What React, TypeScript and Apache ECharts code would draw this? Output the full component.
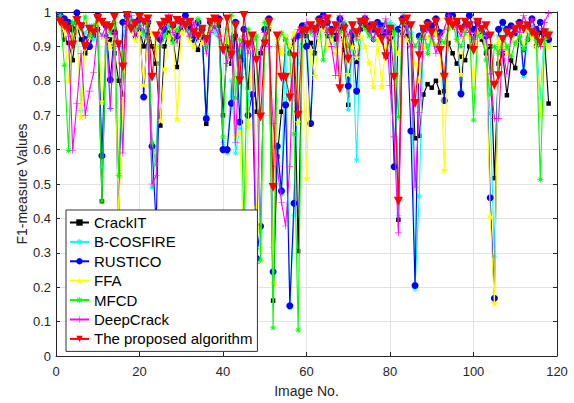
import React, { useEffect, useRef } from "react";
import * as echarts from "echarts";

// Image numbers 1..118
const imageNo: number[] = [];
for (let i = 1; i <= 118; i++) imageNo.push(i);

const xTicks = [0, 20, 40, 60, 80, 100, 120];

const crackIT = [
  0.98, 0.92, 0.91, 0.86, 0.96, 0.92, 0.88, 0.9, 0.93, 0.95,
  0.45, 0.93, 0.92, 0.88, 0.8, 0.76, 0.96, 0.97, 0.93, 0.95,
  0.9, 0.96, 0.9, 0.85, 0.67, 0.9, 0.94, 0.92, 0.84, 0.95,
  0.97, 0.95, 0.92, 0.89, 0.93, 0.675, 0.95, 0.97, 0.96, 0.7,
  0.9, 0.85, 0.93, 0.87, 0.86, 0.78, 0.93, 0.71, 0.88, 0.92,
  0.95, 0.161, 0.58, 0.71, 0.92, 0.88, 0.92, 0.305, 0.94, 0.93,
  0.91, 0.88, 0.96, 0.97, 0.93, 0.94, 0.92, 0.95, 0.89, 0.73,
  0.93, 0.855, 0.95, 0.96, 0.94, 0.92, 0.96, 0.93, 0.87, 0.94,
  0.95, 0.396, 0.94, 0.93, 0.9, 0.633, 0.64, 0.76, 0.79, 0.78,
  0.8, 0.766, 0.77, 0.91, 0.88, 0.85, 0.87, 0.86, 0.9, 0.93,
  0.96, 0.92, 0.88, 0.9, 0.517, 0.85, 0.88, 0.758, 0.86, 0.837,
  0.93, 0.89, 0.92, 0.95, 0.9, 0.94, 0.92, 0.734,
];

const bCosfire = [
  0.99, 0.97, 0.96, 0.93, 0.97, 0.714, 0.94, 0.96, 0.92, 0.99,
  0.55, 0.93, 0.72, 0.95, 0.9, 0.93, 0.97, 0.98, 0.95, 0.97,
  0.93, 0.95, 0.49, 0.6, 0.92, 0.94, 0.97, 0.95, 0.93, 0.96,
  0.98, 0.94, 0.91, 0.95, 0.93, 0.7, 0.96, 0.94, 0.97, 0.62,
  0.59, 0.8, 0.59, 0.66, 0.9, 0.72, 0.93, 0.275, 0.363, 0.94,
  0.97, 0.315, 0.6, 0.47, 0.93, 0.14, 0.409, 0.85, 0.95, 0.96,
  0.68, 0.93, 0.97, 0.95, 0.96, 0.93, 0.9, 0.97, 0.95, 0.717,
  0.92, 0.57, 0.96, 0.97, 0.94, 0.92, 0.97, 0.95, 0.93, 0.97,
  0.96, 0.409, 0.99, 0.95, 0.94, 0.195, 0.465, 0.93, 0.9, 0.92,
  0.95, 0.92, 0.74, 0.97, 0.96, 0.93, 0.77, 0.95, 0.97, 0.92,
  0.96, 0.94, 0.9, 0.705, 0.29, 0.93, 0.96, 0.89, 0.92, 0.95,
  0.94, 0.813, 0.93, 0.96, 0.92, 0.75, 0.95, 0.91,
];

const rustico = [
  0.99, 0.98, 0.97, 0.95, 0.998, 0.96, 0.92, 0.9, 0.95, 0.99,
  0.582, 0.96, 0.803, 0.94, 0.38, 0.97, 0.99, 0.96, 0.97, 0.98,
  0.753, 0.97, 0.61, 0.38, 0.92, 0.95, 0.98, 0.96, 0.93, 0.97,
  0.99, 0.96, 0.92, 0.97, 0.95, 0.69, 0.97, 0.96, 0.98, 0.6,
  0.6, 0.735, 0.97, 0.68, 0.95, 0.7, 0.76, 0.284, 0.377, 0.95,
  0.98, 0.245, 0.61, 0.48, 0.73, 0.146, 0.444, 0.93, 0.96, 0.9,
  0.676, 0.95, 0.98, 0.99, 0.97, 0.95, 0.93, 0.98, 0.96, 0.785,
  0.94, 0.77, 0.97, 0.98, 0.96, 0.95, 0.97, 0.96, 0.94, 0.926,
  0.55, 0.95, 0.98, 0.96, 0.654, 0.205, 0.93, 0.95, 0.97, 0.96,
  0.98, 0.94, 0.743, 0.99, 0.99, 0.97, 0.762, 0.96, 0.99, 0.95,
  0.97, 0.94, 0.93, 0.46, 0.168, 0.95, 0.97, 0.95, 0.96, 0.94,
  0.97, 0.825, 0.96, 0.98, 0.95, 0.97, 0.93, 0.92,
];

const ffa = [
  0.97, 0.95, 0.8, 0.93, 0.96, 0.695, 0.91, 0.93, 0.95, 0.97,
  0.74, 0.92, 0.9, 0.93, 0.4, 0.74, 0.96, 0.95, 0.92, 0.94,
  0.788, 0.92, 0.94, 0.9, 0.685, 0.835, 0.93, 0.95, 0.69, 0.94,
  0.96, 0.92, 0.9, 0.94, 0.91, 0.93, 0.95, 0.97, 0.93, 0.9,
  0.92, 0.88, 0.64, 0.65, 0.3, 0.67, 0.9, 0.433, 0.315, 0.93,
  0.96, 0.212, 0.92, 0.88, 0.93, 0.9, 0.94, 0.68, 0.92, 0.517,
  0.89, 0.815, 0.93, 0.95, 0.9, 0.93, 0.88, 0.94, 0.92, 0.82,
  0.9, 0.868, 0.93, 0.9, 0.853, 0.784, 0.92, 0.784, 0.9, 0.93,
  0.9, 0.88, 0.95, 0.92, 0.9, 0.85, 0.8, 0.9, 0.93, 0.91,
  0.94, 0.9, 0.54, 0.96, 0.98, 0.92, 0.82, 0.95, 0.93, 0.78,
  0.94, 0.93, 0.9, 0.406, 0.154, 0.92, 0.9, 0.88, 0.93, 0.91,
  0.94, 0.9, 0.95, 0.93, 0.9, 0.7, 0.92, 0.9,
];

const mfcd = [
  0.99, 0.845, 0.598, 0.97, 0.98, 0.95, 0.986, 0.93, 0.96, 0.98,
  0.45, 0.96, 0.94, 0.97, 0.525, 0.88, 0.98, 0.97, 0.95, 0.96,
  0.94, 0.97, 0.62, 0.556, 0.9, 0.93, 0.96, 0.91, 0.95, 0.97,
  0.96, 0.93, 0.95, 0.98, 0.94, 0.9, 0.96, 0.98, 0.93, 0.637,
  0.95, 0.99, 0.75, 0.92, 0.38, 0.95, 0.9, 0.93, 0.279, 0.97,
  0.96, 0.082, 0.9, 0.94, 0.92, 0.88, 0.645, 0.075, 0.93, 0.96,
  0.94, 0.95, 0.97, 0.86, 0.95, 0.93, 0.96, 0.94, 0.97, 0.9,
  0.95, 0.92, 0.97, 0.95, 0.93, 0.96, 0.94, 0.95, 0.97, 0.96,
  0.94, 0.695, 0.97, 0.96, 0.93, 0.9, 0.92, 0.95, 0.88, 0.93,
  0.9, 0.92, 0.91, 0.95, 0.97, 0.92, 0.9, 0.94, 0.96, 0.686,
  0.93, 0.95, 0.86, 0.76, 0.9, 0.88, 0.92, 0.9, 0.87, 0.91,
  0.93, 0.89, 0.92, 0.95, 0.93, 0.513, 0.92, 0.94,
];

const deepCrack = [
  0.98, 0.96, 0.93, 0.598, 0.734, 0.88, 0.7, 0.77, 0.824, 0.95,
  0.93, 0.96, 0.72, 0.94, 0.9, 0.59, 0.97, 0.99, 0.93, 0.96,
  0.95, 0.92, 0.5, 0.524, 0.93, 0.96, 0.99, 0.94, 0.91, 0.97,
  0.95, 0.93, 0.97, 0.92, 0.95, 0.88, 0.94, 0.96, 0.93, 0.9,
  0.85, 0.93, 0.62, 0.9, 0.93, 0.88, 0.92, 0.27, 0.89, 0.94,
  0.9, 0.676, 0.55, 0.447, 0.378, 0.55, 0.92, 0.95, 0.93, 0.97,
  0.95, 0.93, 0.96, 0.99, 0.94, 0.9, 0.815, 0.99, 0.96, 0.93,
  0.95, 0.93, 0.97, 0.99, 0.95, 0.92, 0.96, 0.94, 0.98, 0.787,
  0.637, 0.358, 0.93, 0.96, 0.9, 0.49, 0.707, 0.92, 0.95, 0.93,
  0.88, 0.93, 0.95, 0.99, 0.97, 0.95, 0.93, 0.96, 0.94, 0.92,
  0.97, 0.95, 0.93, 0.82, 0.69, 0.69, 0.89, 0.82, 0.93, 0.95,
  0.94, 0.99, 0.96, 0.98, 0.94, 0.9, 0.97, 0.996,
];

const proposed = [
  0.97, 0.96, 0.95, 0.904, 0.975, 0.957, 0.9, 0.95, 0.94, 0.981,
  0.97, 0.96, 0.955, 0.985, 0.905, 0.84, 0.99, 0.95, 0.965, 0.985,
  0.97, 0.98, 0.81, 0.93, 0.96, 0.97, 0.98, 0.96, 0.975, 0.97,
  0.96, 0.97, 0.94, 0.93, 0.95, 0.92, 0.97, 0.98, 0.97, 0.888,
  0.98, 0.874, 0.96, 0.8, 0.99, 0.905, 0.93, 0.86, 0.695, 0.907,
  0.97, 0.49, 0.93, 0.81, 0.81, 0.75, 0.87, 0.7, 0.945, 0.945,
  0.96, 0.95, 0.97, 0.96, 0.98, 0.94, 0.96, 0.777, 0.95, 0.863,
  0.96, 0.94, 0.97, 0.97, 0.95, 0.96, 0.94, 0.92, 0.87, 0.95,
  0.81, 0.45, 0.97, 0.98, 0.96, 0.734, 0.873, 0.95, 0.96, 0.94,
  0.97, 0.888, 0.81, 0.97, 0.96, 0.97, 0.95, 0.97, 0.96, 0.888,
  0.97, 0.95, 0.96, 0.93, 0.787, 0.815, 0.92, 0.94, 0.93, 0.95,
  0.96, 0.95, 0.96, 0.94, 0.93, 0.91, 0.94, 0.93,
];

const seriesNames = [
  "CrackIT",
  "B-COSFIRE",
  "RUSTICO",
  "FFA",
  "MFCD",
  "DeepCrack",
  "The proposed algorithm",
];

const ASTERISK =
  "path://M-0.6,-5L0.6,-5L0.6,5L-0.6,5Z M-5,-0.6L5,-0.6L5,0.6L-5,0.6Z M-3.12,-3.96L3.96,3.12L3.12,3.96L-3.96,-3.12Z M-3.96,3.12L3.12,-3.96L3.96,-3.12L-3.12,3.96Z";
const PLUS =
  "path://M-0.45,-5L0.45,-5L0.45,5L-0.45,5Z M-5,-0.45L5,-0.45L5,0.45L-5,0.45Z";
const STAR =
  "path://M0,-5L1.123,-1.545L4.755,-1.545L1.816,0.59L2.939,4.045L0,1.91L-2.939,4.045L-1.816,0.59L-4.755,-1.545L-1.123,-1.545Z";

const FONT = "'Liberation Sans', Arial, Helvetica, sans-serif";
const AX = "#262626";

export default function App() {
  const ref = useRef<HTMLDivElement>(null);

  useEffect(() => {
    if (!ref.current) return;
    const chart = echarts.init(ref.current, undefined, { renderer: "svg" });

    const pairs = (arr: number[]) => arr.map((v, i) => [imageNo[i], v]);

    const styles = [
      { data: crackIT, color: "#000000", symbol: "rect", size: 4.5 },
      { data: bCosfire, color: "#00ffff", symbol: ASTERISK, size: 6 },
      { data: rustico, color: "#0000ff", symbol: "circle", size: 7 },
      { data: ffa, color: "#ffff00", symbol: STAR, size: 8 },
      { data: mfcd, color: "#00ff00", symbol: ASTERISK, size: 6 },
      { data: deepCrack, color: "#ff00ff", symbol: PLUS, size: 7 },
      { data: proposed, color: "#ff0000", symbol: "triangle", size: 9, rotate: 180 },
    ];

    const series = styles.map((s, k) => ({
      name: seriesNames[k],
      type: "line",
      data: pairs(s.data),
      symbol: s.symbol,
      symbolSize: s.size,
      symbolRotate: s.rotate || 0,
      showSymbol: true,
      showAllSymbol: true,
      itemStyle: { color: s.color },
      lineStyle: { color: s.color, width: 1.1 },
      emphasis: { disabled: true },
      z: 2 + k,
    }));

    chart.setOption({
      animation: false,
      textStyle: { fontFamily: FONT },
      grid: { left: 56, right: 17, top: 12, bottom: 45, containLabel: false },
      legend: {
        data: seriesNames,
        orient: "vertical",
        left: 66,
        top: 210,
        itemWidth: 19,
        itemHeight: 8,
        itemGap: 4.4,
        padding: [5, 5, 5, 3],
        backgroundColor: "#ffffff",
        borderColor: "#333333",
        borderWidth: 1,
        textStyle: { fontFamily: FONT, fontSize: 15, color: "#000000", lineHeight: 15 },
        selectedMode: false,
        z: 20,
      },
      xAxis: [
        {
          type: "value",
          min: 0,
          max: 120,
          interval: 20,
          name: "Image No.",
          nameLocation: "middle",
          nameGap: 28,
          nameMoveOverlap: false,
          nameTextStyle: { fontFamily: FONT, fontSize: 14, color: AX },
          axisLine: { show: true, onZero: false, lineStyle: { color: AX, width: 1 } },
          axisTick: { show: true, inside: true, length: 4, lineStyle: { color: AX } },
          axisLabel: {
            fontFamily: FONT,
            fontSize: 13,
            color: AX,
            margin: 9,
            formatter: (v: number) => (xTicks.includes(v) ? String(v) : ""),
          },
          splitLine: { show: true, lineStyle: { color: "#e3e3e3", width: 1 } },
        },
        {
          type: "value",
          position: "top",
          min: 0,
          max: 120,
          interval: 20,
          axisLine: { show: true, onZero: false, lineStyle: { color: AX, width: 1 } },
          axisTick: { show: true, inside: true, length: 4, lineStyle: { color: AX } },
          axisLabel: { show: false },
          splitLine: { show: false },
        },
      ],
      yAxis: [
        {
          type: "value",
          min: 0,
          max: 1,
          interval: 0.1,
          name: "F1-measure Values",
          nameLocation: "middle",
          nameGap: 27,
          nameMoveOverlap: false,
          nameTextStyle: { fontFamily: FONT, fontSize: 14, color: AX },
          axisLine: { show: true, onZero: false, lineStyle: { color: AX, width: 1 } },
          axisTick: { show: true, inside: true, length: 4, lineStyle: { color: AX } },
          axisLabel: {
            fontFamily: FONT,
            fontSize: 13,
            color: AX,
            margin: 5,
            formatter: (v: number) => String(Math.round(v * 10) / 10),
          },
          splitLine: { show: true, lineStyle: { color: "#e3e3e3", width: 1 } },
        },
        {
          type: "value",
          position: "right",
          min: 0,
          max: 1,
          interval: 0.1,
          axisLine: { show: true, onZero: false, lineStyle: { color: AX, width: 1 } },
          axisTick: { show: true, inside: true, length: 4, lineStyle: { color: AX } },
          axisLabel: { show: false },
          splitLine: { show: false },
        },
      ],
      series,
    });

    return () => chart.dispose();
  }, []);

  return (
    <div
      ref={ref}
      style={{ position: "fixed", left: 0, top: 0, width: 574, height: 403, background: "#ffffff" }}
    />
  );
}
